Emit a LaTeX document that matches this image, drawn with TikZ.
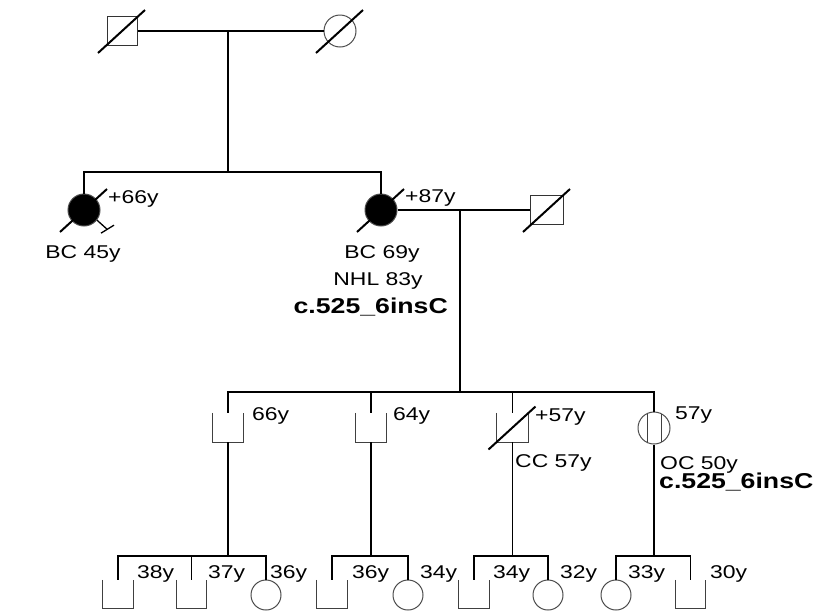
\documentclass[tikz,border=0pt]{standalone}
\usepackage{fontspec}
\setmainfont[FakeStretch=1.24]{Liberation Sans}
\usetikzlibrary{arrows.meta}

\begin{document}
\begin{tikzpicture}[x=1pt, y=-1pt,
    line/.style={line width=1.3pt},
    male/.style={draw=black!80, line width=1pt, rectangle, minimum width=30pt, minimum height=29pt, inner sep=0pt},
    openmale/.style={rectangle, minimum width=31pt, minimum height=29pt, inner sep=0pt},
    kidm/.style={openmale, minimum width=30pt, minimum height=28pt},
    female/.style={draw=black!70, line width=1pt, circle, minimum size=32pt, inner sep=0pt},
    kidf/.style={female, minimum size=30pt},
    shapeline/.style={draw=black!75, line width=1pt},
    slash/.style={line width=2pt},
    age/.style={anchor=base west, inner sep=0pt, font=\fontsize{18.5}{20}\selectfont},
    dx/.style={anchor=base, inner sep=0pt, font=\fontsize{18.5}{20}\selectfont},
    mut/.style={anchor=base, inner sep=0pt, font=\fontsize{21.5}{24}\selectfont\bfseries}]
  \useasboundingbox (0,0) rectangle (836,614);

  % generation I
  \node[male] (gf) at (122,31) {};
  \node[female] (gm) at (340,31) {};
  \coordinate (m1) at (228,31);
  \coordinate (s1) at (228,172);

  % generation II
  \node[female, fill=black] (aunt) at (84,210) {};
  \node[female, fill=black] (nan) at (381,210) {};
  \node[male, minimum width=33pt] (nanh) at (547,210) {};
  \coordinate (m2) at (460,210);
  \coordinate (s2) at (460,392);

  % generation III
  \node[openmale] (son1) at (228,427.5) {};
  \node[openmale] (son2) at (371,427.5) {};
  \node[openmale] (son3) at (512.5,427.5) {};
  \node[female] (dau) at (654,428) {};
  \coordinate (s3) at (460,556);

  % generation IV
  \node[kidm] (k1) at (118,594) {};
  \node[kidm] (k2) at (191.5,594) {};
  \node[kidf] (k3) at (266,595) {};
  \node[kidm] (k4) at (332,594) {};
  \node[kidf] (k5) at (408,595) {};
  \node[kidm] (k6) at (474,594) {};
  \node[kidf] (k7) at (548,595) {};
  \node[kidf] (k8) at (616,595) {};
  \node[kidm] (k9) at (690.5,594) {};

  % open squares
  \foreach \n in {son1,son2,son3,k1,k2,k4,k6,k9}
    \draw[shapeline] (\n.north west) |- (\n.south east) -- (\n.north east);

  % deceased
  \foreach \n in {gf,gm,aunt,nan,nanh,son3}
    \draw[slash] (\n.center) ++(-24,22) -- ++(47,-43);
  \draw[line] (aunt.-38) -- ++(10,9) coordinate (tick);
  \draw[line] (tick) ++(-6,4) -- ++(13,-8);
  \draw[shapeline] (dau.center) ++(-7,-14) -- ++(0,28);
  \draw[shapeline] (dau.center) ++(7,-14) -- ++(0,28);

  % lines of descent
  \draw[line] (gf.east) -- (gm.west);
  \draw[line] (m1) -- (s1);
  \draw[line] (aunt.north) -- (aunt.north |- s1) -- (nan.north |- s1) -- (nan.north);
  \draw[line] (nan.east) -- (nanh.west);
  \draw[line] (m2) -- (s2);
  \draw[line] (son1.north) -- (son1.north |- s2) -- (dau.north |- s2) -- (dau.north);
  \draw[line] (son2.north) -- (son2.north |- s2);
  \draw[line] (son3.north) -- (son3.north |- s2);
  \draw[line] (son1.south) -- (son1.south |- s3);
  \draw[line] (son2.south) -- (son2.south |- s3);
  \draw[line] (son3.south) -- (son3.south |- s3);
  \draw[line] (dau.south) -- (dau.south |- s3);
  \draw[line] (k1.north) -- (k1.north |- s3) -- (k3.north |- s3) -- (k3.north);
  \draw[line] (k2.north) -- (k2.north |- s3);
  \draw[line] (k4.north) -- (k4.north |- s3) -- (k5.north |- s3) -- (k5.north);
  \draw[line] (k6.north) -- (k6.north |- s3) -- (k7.north |- s3) -- (k7.north);
  \draw[line] (k8.north) -- (k8.north |- s3) -- (k9.north |- s3) -- (k9.north);

  % labels
  \node[age] (a66) at (108,203) {+66y};
  \node[dx] (bc45) at (83,258) {BC 45y};
  \node[age] (a87) at (405,202) {+87y};
  \node[dx] (bc69) at (382,258) {BC 69y};
  \node[dx] (nhl) at (378,285) {NHL 83y};
  \node[mut, anchor=base east] (mutnan) at (448,313) {c.525\_6insC};
  \node[age] (a66b) at (252,420) {66y};
  \node[age] (a64) at (393,420) {64y};
  \node[age] (a57) at (535,421) {+57y};
  \node[age] (a57b) at (675,419) {57y};
  \node[age] (cc) at (515,467) {CC 57y};
  \node[age] (oc) at (660,469) {OC 50y};
  \node[mut, anchor=base west] (mutdau) at (659,488) {c.525\_6insC};
  \node[age] (a38) at (137,578) {38y};
  \node[age] (a37) at (208,578) {37y};
  \node[age] (a36) at (270,578) {36y};
  \node[age] (a36b) at (352,578) {36y};
  \node[age] (a34) at (420,578) {34y};
  \node[age] (a34b) at (493,578) {34y};
  \node[age] (a32) at (560,578) {32y};
  \node[age] (a33) at (628,578) {33y};
  \node[age] (a30) at (710,578) {30y};
\end{tikzpicture}
\end{document}
